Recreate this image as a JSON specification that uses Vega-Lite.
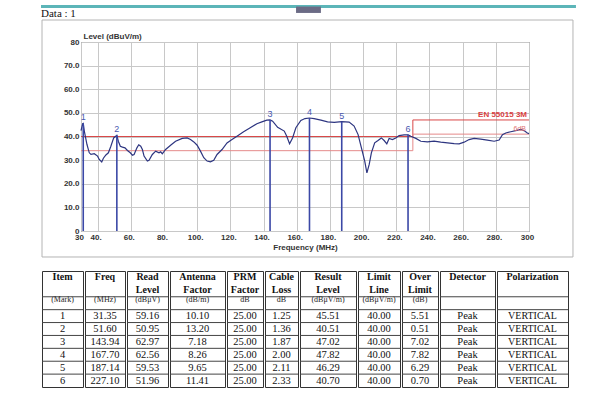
{
  "$schema": "https://vega.github.io/schema/vega-lite/v6.json",
  "background": "white",
  "padding": {"left": 39, "top": 4, "right": 0, "bottom": 0},
  "config": {
    "axis": {"labelOverlap": false, "labelFlush": false, "grid": true, "gridColor": "#c8c8c8", "domain": false, "ticks": false,
      "labelFont": "Liberation Sans", "labelFontSize": 8, "labelFontWeight": "bold", "labelColor": "#333",
      "titleFont": "Liberation Sans", "titleFontSize": 8, "titleFontWeight": "bold", "titleColor": "#333"},
    "axisX": {"labelPadding": 2, "labelOffset": -2, "titlePadding": 2},
    "axisY": {"labelPadding": 2, "titleAngle": 0, "titleAlign": "left", "titleBaseline": "alphabetic", "titleX": 2, "titleY": -4}
  },
  "datasets": {
    "curve": [
      {"f":30,"v":42.5},{"f":31,"v":45.4},{"f":31.35,"v":45.51},{"f":32,"v":42.3},{"f":33.6,"v":36.6},{"f":35,"v":33.1},{"f":36,"v":32.4},{"f":38,"v":32.7},{"f":40,"v":31.7},{"f":41,"v":30.3},{"f":42.5,"v":29.2},{"f":43.5,"v":30.8},{"f":45,"v":32.2},{"f":46.5,"v":33.1},{"f":48,"v":35.9},{"f":49.7,"v":39.4},{"f":51.6,"v":40.51},{"f":52.5,"v":38},{"f":53.7,"v":35.9},{"f":55,"v":35.5},{"f":56.5,"v":35.2},{"f":58,"v":34.1},{"f":59.7,"v":33.1},{"f":61,"v":32.1},{"f":62,"v":32.4},{"f":63.7,"v":35.2},{"f":64.8,"v":36.5},{"f":66,"v":35.9},{"f":67,"v":34.5},{"f":68,"v":31.7},{"f":70,"v":29.6},{"f":71,"v":29.9},{"f":73,"v":32.4},{"f":75,"v":33.8},{"f":77,"v":33.1},{"f":78,"v":33.5},{"f":79,"v":32.7},{"f":81,"v":34.5},{"f":84,"v":36.3},{"f":87,"v":38},{"f":91,"v":39.2},{"f":94,"v":39.4},{"f":96,"v":38.7},{"f":98,"v":37.7},{"f":100,"v":36.3},{"f":102,"v":33.8},{"f":104,"v":31},{"f":106,"v":29.6},{"f":108,"v":29.3},{"f":110,"v":29.9},{"f":112,"v":32.4},{"f":115,"v":34.5},{"f":118,"v":37.3},{"f":121,"v":38.7},{"f":124,"v":40.1},{"f":128,"v":42},{"f":132,"v":43.7},{"f":136,"v":45.4},{"f":139,"v":46.2},{"f":142,"v":46.9},{"f":143.94,"v":47.02},{"f":145.5,"v":46.5},{"f":148.5,"v":43.9},{"f":152.5,"v":42.3},{"f":154,"v":40.1},{"f":155.7,"v":36.9},{"f":157.5,"v":39.4},{"f":159.5,"v":43.7},{"f":162.5,"v":46.8},{"f":165,"v":47.6},{"f":167.7,"v":47.82},{"f":170.5,"v":47.6},{"f":174.6,"v":46.9},{"f":178.6,"v":46.2},{"f":182.6,"v":46},{"f":187.14,"v":46.29},{"f":191.6,"v":46.1},{"f":194.6,"v":44.4},{"f":197,"v":40.8},{"f":199,"v":35.2},{"f":201,"v":29.6},{"f":202.3,"v":24.6},{"f":203.7,"v":28.2},{"f":205,"v":33.1},{"f":207,"v":37.3},{"f":209,"v":38.3},{"f":211,"v":39.4},{"f":212.7,"v":38.3},{"f":214.3,"v":36.9},{"f":215.7,"v":39.2},{"f":217.7,"v":38.7},{"f":219.7,"v":39.4},{"f":221.7,"v":40.4},{"f":224.7,"v":40.7},{"f":227.1,"v":40.7},{"f":228.8,"v":40.1},{"f":231.8,"v":39.2},{"f":234.8,"v":38},{"f":238.8,"v":37.7},{"f":242.8,"v":38},{"f":246.8,"v":37.6},{"f":250.9,"v":37.3},{"f":254.9,"v":37},{"f":257.9,"v":36.9},{"f":260.9,"v":37.6},{"f":263.9,"v":38.7},{"f":266.9,"v":39.2},{"f":270.9,"v":38.9},{"f":274.9,"v":38.5},{"f":279,"v":38},{"f":282,"v":38.5},{"f":284,"v":40.8},{"f":286,"v":41.5},{"f":289,"v":42},{"f":292,"v":42.5},{"f":295,"v":43},{"f":297,"v":42.5},{"f":299,"v":41.5},{"f":300,"v":41.2}
    ],
    "limits": [
      {"s":"limit","i":0,"f":30,"v":40},{"s":"limit","i":1,"f":230,"v":40},{"s":"limit","i":2,"f":230,"v":47},{"s":"limit","i":3,"f":300,"v":47},
      {"s":"margin","i":0,"f":30,"v":34},{"s":"margin","i":1,"f":230,"v":34},{"s":"margin","i":2,"f":230,"v":41},{"s":"margin","i":3,"f":300,"v":41}
    ],
    "markers": [
      {"id":"1","f":31.35,"v":45.51},{"id":"2","f":51.6,"v":40.51},{"id":"3","f":143.94,"v":47.02},{"id":"4","f":167.7,"v":47.82},{"id":"5","f":187.14,"v":46.29},{"id":"6","f":227.1,"v":40.7}
    ],
    "tbl": [
      {"row":"h1","item":"Item","freq":"Freq","read":"Read","ant":"Antenna","prm":"PRM","cable":"Cable","result":"Result","limit":"Limit","over":"Over","det":"Detector","pol":"Polarization"},
      {"row":"h2","item":"","freq":"","read":"Level","ant":"Factor","prm":"Factor","cable":"Loss","result":"Level","limit":"Line","over":"Limit","det":"","pol":""},
      {"row":"u","item":"(Mark)","freq":"(MHz)","read":"(dBμV)","ant":"(dB/m)","prm":"dB","cable":"dB","result":"(dBμV/m)","limit":"(dBμV/m)","over":"(dB)","det":"","pol":""},
      {"row":"1","item":"1","freq":"31.35","read":"59.16","ant":"10.10","prm":"25.00","cable":"1.25","result":"45.51","limit":"40.00","over":"5.51","det":"Peak","pol":"VERTICAL"},
      {"row":"2","item":"2","freq":"51.60","read":"50.95","ant":"13.20","prm":"25.00","cable":"1.36","result":"40.51","limit":"40.00","over":"0.51","det":"Peak","pol":"VERTICAL"},
      {"row":"3","item":"3","freq":"143.94","read":"62.97","ant":"7.18","prm":"25.00","cable":"1.87","result":"47.02","limit":"40.00","over":"7.02","det":"Peak","pol":"VERTICAL"},
      {"row":"4","item":"4","freq":"167.70","read":"62.56","ant":"8.26","prm":"25.00","cable":"2.00","result":"47.82","limit":"40.00","over":"7.82","det":"Peak","pol":"VERTICAL"},
      {"row":"5","item":"5","freq":"187.14","read":"59.53","ant":"9.65","prm":"25.00","cable":"2.11","result":"46.29","limit":"40.00","over":"6.29","det":"Peak","pol":"VERTICAL"},
      {"row":"6","item":"6","freq":"227.10","read":"51.96","ant":"11.41","prm":"25.00","cable":"2.33","result":"40.70","limit":"40.00","over":"0.70","det":"Peak","pol":"VERTICAL"}
    ]
  },
  "spacing": 12,
  "vconcat": [
    {
      "spacing": 0,
      "hconcat": [
        {"width": 1, "height": 1, "view": {"stroke": null}, "data": {"values": [{}]}, "mark": {"type": "point", "opacity": 0, "size": 0, "strokeWidth": 0}},
        {
          "width": 448,
          "height": 189,
          "view": {"stroke": "#555", "fill": "white"},
          "layer": [
            {
              "data": {"values": [{}]},
              "mark": {"type": "rect", "fillOpacity": 0, "stroke": "#b4b4b4", "strokeWidth": 1},
              "encoding": {
                "x": {"datum": 6.5, "type": "quantitative", "scale": {"domain": [30, 300], "nice": false, "zero": false}, "axis": {"values": [30,40,60,80,100,120,140,160,180,200,220,240,260,280,300], "labelExpr": "datum.value==30||datum.value==300 ? ''+datum.value : datum.value+'.'", "title": "Frequency (MHz)"}},
                "x2": {"datum": 326.5},
                "y": {"datum": 89.31, "type": "quantitative", "scale": {"domain": [0, 80], "nice": false, "zero": false}, "axis": {"values": [0,10,20,30,40,50,60,70,80], "labelExpr": "datum.value==0||datum.value==80 ? format(datum.value,'d') : format(datum.value,'.1f')", "title": "Level (dBuV/m)"}},
                "y2": {"datum": -11}
              }
            },
            {
              "data": {"values": [{}]},
              "mark": {"type": "rect", "color": "#5cb5b8"},
              "encoding": {
                "x": {"datum": 5.9, "type": "quantitative", "scale": {"domain": [30, 300], "nice": false, "zero": false}, "axis": {"values": [30,40,60,80,100,120,140,160,180,200,220,240,260,280,300], "labelExpr": "datum.value==30||datum.value==300 ? ''+datum.value : datum.value+'.'", "title": "Frequency (MHz)"}},
                "x2": {"datum": 328.3},
                "y": {"datum": 95.66, "type": "quantitative", "scale": {"domain": [0, 80], "nice": false, "zero": false}, "axis": {"values": [0,10,20,30,40,50,60,70,80], "labelExpr": "datum.value==0||datum.value==80 ? format(datum.value,'d') : format(datum.value,'.1f')", "title": "Level (dBuV/m)"}},
                "y2": {"datum": 94.39}
              }
            },
            {
              "data": {"values": [{}]},
              "mark": {"type": "rect", "color": "#6b6b85"},
              "encoding": {
                "x": {"datum": 159.6, "type": "quantitative", "scale": {"domain": [30, 300], "nice": false, "zero": false}, "axis": {"values": [30,40,60,80,100,120,140,160,180,200,220,240,260,280,300], "labelExpr": "datum.value==30||datum.value==300 ? ''+datum.value : datum.value+'.'", "title": "Frequency (MHz)"}},
                "x2": {"datum": 174.6},
                "y": {"datum": 95.0, "type": "quantitative", "scale": {"domain": [0, 80], "nice": false, "zero": false}, "axis": {"values": [0,10,20,30,40,50,60,70,80], "labelExpr": "datum.value==0||datum.value==80 ? format(datum.value,'d') : format(datum.value,'.1f')", "title": "Level (dBuV/m)"}},
                "y2": {"datum": 92.3}
              }
            },
            {
              "data": {"values": [{}]},
              "mark": {"type": "text", "font": "Liberation Serif", "fontSize": 11, "color": "#111", "align": "left", "baseline": "alphabetic"},
              "encoding": {
                "x": {"datum": 5.9, "type": "quantitative", "scale": {"domain": [30, 300], "nice": false, "zero": false}, "axis": {"values": [30,40,60,80,100,120,140,160,180,200,220,240,260,280,300], "labelExpr": "datum.value==30||datum.value==300 ? ''+datum.value : datum.value+'.'", "title": "Frequency (MHz)"}},
                "y": {"datum": 90.58, "type": "quantitative", "scale": {"domain": [0, 80], "nice": false, "zero": false}, "axis": {"values": [0,10,20,30,40,50,60,70,80], "labelExpr": "datum.value==0||datum.value==80 ? format(datum.value,'d') : format(datum.value,'.1f')", "title": "Level (dBuV/m)"}},
                "text": {"value": "Data : 1"}
              }
            },
            {
              "data": {"name": "limits"},
              "mark": {"type": "line", "strokeWidth": 1},
              "encoding": {
                "x": {"field": "f", "type": "quantitative", "scale": {"domain": [30, 300], "nice": false, "zero": false}, "axis": {"values": [30,40,60,80,100,120,140,160,180,200,220,240,260,280,300], "labelExpr": "datum.value==30||datum.value==300 ? ''+datum.value : datum.value+'.'", "title": "Frequency (MHz)"}},
                "y": {"field": "v", "type": "quantitative", "scale": {"domain": [0, 80], "nice": false, "zero": false}, "axis": {"values": [0,10,20,30,40,50,60,70,80], "labelExpr": "datum.value==0||datum.value==80 ? format(datum.value,'d') : format(datum.value,'.1f')", "title": "Level (dBuV/m)"}},
                "color": {"field": "s", "type": "nominal", "scale": {"domain": ["limit", "margin"], "range": ["#d94848", "#e58a8a"]}, "legend": null},
                "order": {"field": "i"}
              }
            },
            {
              "data": {"name": "curve"},
              "mark": {"type": "line", "color": "#2d3580", "strokeWidth": 1.2},
              "encoding": {
                "x": {"field": "f", "type": "quantitative", "scale": {"domain": [30, 300], "nice": false, "zero": false}, "axis": {"values": [30,40,60,80,100,120,140,160,180,200,220,240,260,280,300], "labelExpr": "datum.value==30||datum.value==300 ? ''+datum.value : datum.value+'.'", "title": "Frequency (MHz)"}},
                "y": {"field": "v", "type": "quantitative", "scale": {"domain": [0, 80], "nice": false, "zero": false}, "axis": {"values": [0,10,20,30,40,50,60,70,80], "labelExpr": "datum.value==0||datum.value==80 ? format(datum.value,'d') : format(datum.value,'.1f')", "title": "Level (dBuV/m)"}}
              }
            },
            {
              "data": {"name": "markers"},
              "mark": {"type": "rule", "color": "#3b48a6", "strokeWidth": 1.6},
              "encoding": {
                "x": {"field": "f", "type": "quantitative", "scale": {"domain": [30, 300], "nice": false, "zero": false}, "axis": {"values": [30,40,60,80,100,120,140,160,180,200,220,240,260,280,300], "labelExpr": "datum.value==30||datum.value==300 ? ''+datum.value : datum.value+'.'", "title": "Frequency (MHz)"}},
                "y": {"field": "v", "type": "quantitative", "scale": {"domain": [0, 80], "nice": false, "zero": false}, "axis": {"values": [0,10,20,30,40,50,60,70,80], "labelExpr": "datum.value==0||datum.value==80 ? format(datum.value,'d') : format(datum.value,'.1f')", "title": "Level (dBuV/m)"}},
                "y2": {"datum": 0}
              }
            },
            {
              "data": {"name": "markers"},
              "mark": {"type": "text", "font": "Liberation Sans", "fontSize": 9, "color": "#4a58b0", "baseline": "bottom", "dy": -1},
              "encoding": {
                "x": {"field": "f", "type": "quantitative", "scale": {"domain": [30, 300], "nice": false, "zero": false}, "axis": {"values": [30,40,60,80,100,120,140,160,180,200,220,240,260,280,300], "labelExpr": "datum.value==30||datum.value==300 ? ''+datum.value : datum.value+'.'", "title": "Frequency (MHz)"}},
                "y": {"field": "v", "type": "quantitative", "scale": {"domain": [0, 80], "nice": false, "zero": false}, "axis": {"values": [0,10,20,30,40,50,60,70,80], "labelExpr": "datum.value==0||datum.value==80 ? format(datum.value,'d') : format(datum.value,'.1f')", "title": "Level (dBuV/m)"}},
                "text": {"field": "id"}
              }
            },
            {
              "data": {"values": [{}]},
              "mark": {"type": "text", "font": "Liberation Sans", "fontSize": 8, "fontWeight": "bold", "color": "#d94040", "align": "right", "baseline": "alphabetic", "dx": -2, "dy": -3},
              "encoding": {
                "x": {"datum": 300, "type": "quantitative", "scale": {"domain": [30, 300], "nice": false, "zero": false}, "axis": {"values": [30,40,60,80,100,120,140,160,180,200,220,240,260,280,300], "labelExpr": "datum.value==30||datum.value==300 ? ''+datum.value : datum.value+'.'", "title": "Frequency (MHz)"}},
                "y": {"datum": 47, "type": "quantitative", "scale": {"domain": [0, 80], "nice": false, "zero": false}, "axis": {"values": [0,10,20,30,40,50,60,70,80], "labelExpr": "datum.value==0||datum.value==80 ? format(datum.value,'d') : format(datum.value,'.1f')", "title": "Level (dBuV/m)"}},
                "text": {"value": "EN 55015  3M"}
              }
            },
            {
              "data": {"values": [{}]},
              "mark": {"type": "text", "font": "Liberation Sans", "fontSize": 7, "color": "#e07070", "align": "right", "baseline": "alphabetic", "dx": -3, "dy": -3},
              "encoding": {
                "x": {"datum": 300, "type": "quantitative", "scale": {"domain": [30, 300], "nice": false, "zero": false}, "axis": {"values": [30,40,60,80,100,120,140,160,180,200,220,240,260,280,300], "labelExpr": "datum.value==30||datum.value==300 ? ''+datum.value : datum.value+'.'", "title": "Frequency (MHz)"}},
                "y": {"datum": 41, "type": "quantitative", "scale": {"domain": [0, 80], "nice": false, "zero": false}, "axis": {"values": [0,10,20,30,40,50,60,70,80], "labelExpr": "datum.value==0||datum.value==80 ? format(datum.value,'d') : format(datum.value,'.1f')", "title": "Level (dBuV/m)"}},
                "text": {"value": "6dB"}
              }
            }
          ]
        }
      ]
    },
    {
      "spacing": 0,
      "hconcat": [
        {"width": 2, "height": 1, "view": {"stroke": null}, "data": {"values": [{}]}, "mark": {"type": "point", "opacity": 0, "size": 0, "strokeWidth": 0}},
        {"width": 41, "height": 116, "view": {"stroke": "#333"}, "data": {"name": "tbl"},
         "encoding": {"y": {"field": "row", "type": "ordinal", "scale": {"domain": ["h1","h2","u","1","2","3","4","5","6"], "paddingInner": 0, "paddingOuter": 0}, "axis": null}},
         "layer": [
          {"transform": [{"filter": "datum.row=='h1'||datum.row=='h2'"}], "mark": {"type": "text", "font": "Liberation Serif", "fontSize": 10, "fontWeight": "bold", "color": "#111"}, "encoding": {"text": {"field": "item"}}},
          {"transform": [{"filter": "datum.row=='u'"}], "mark": {"type": "text", "font": "Liberation Serif", "fontSize": 8, "color": "#222", "dy": -3}, "encoding": {"text": {"field": "item"}}},
          {"transform": [{"filter": "indexof(['1','2','3','4','5','6'], datum.row) >= 0"}], "mark": {"type": "text", "font": "Liberation Serif", "fontSize": 10.5, "color": "#111"}, "encoding": {"text": {"field": "item"}}},
          {"transform": [{"filter": "datum.row!='h1'&&datum.row!='h2'"}], "mark": {"type": "rule", "color": "#444"}, "encoding": {"y": {"field": "row", "type": "ordinal", "bandPosition": 0}}}
         ]},
        {"width": 40, "height": 116, "view": {"stroke": "#333"}, "data": {"name": "tbl"},
         "encoding": {"y": {"field": "row", "type": "ordinal", "scale": {"domain": ["h1","h2","u","1","2","3","4","5","6"], "paddingInner": 0, "paddingOuter": 0}, "axis": null}},
         "layer": [
          {"transform": [{"filter": "datum.row=='h1'||datum.row=='h2'"}], "mark": {"type": "text", "font": "Liberation Serif", "fontSize": 10, "fontWeight": "bold", "color": "#111"}, "encoding": {"text": {"field": "freq"}}},
          {"transform": [{"filter": "datum.row=='u'"}], "mark": {"type": "text", "font": "Liberation Serif", "fontSize": 8, "color": "#222", "dy": -3}, "encoding": {"text": {"field": "freq"}}},
          {"transform": [{"filter": "indexof(['1','2','3','4','5','6'], datum.row) >= 0"}], "mark": {"type": "text", "font": "Liberation Serif", "fontSize": 10.5, "color": "#111"}, "encoding": {"text": {"field": "freq"}}},
          {"transform": [{"filter": "datum.row!='h1'&&datum.row!='h2'"}], "mark": {"type": "rule", "color": "#444"}, "encoding": {"y": {"field": "row", "type": "ordinal", "bandPosition": 0}}}
         ]},
        {"width": 41, "height": 116, "view": {"stroke": "#333"}, "data": {"name": "tbl"},
         "encoding": {"y": {"field": "row", "type": "ordinal", "scale": {"domain": ["h1","h2","u","1","2","3","4","5","6"], "paddingInner": 0, "paddingOuter": 0}, "axis": null}},
         "layer": [
          {"transform": [{"filter": "datum.row=='h1'||datum.row=='h2'"}], "mark": {"type": "text", "font": "Liberation Serif", "fontSize": 10, "fontWeight": "bold", "color": "#111"}, "encoding": {"text": {"field": "read"}}},
          {"transform": [{"filter": "datum.row=='u'"}], "mark": {"type": "text", "font": "Liberation Serif", "fontSize": 8, "color": "#222", "dy": -3}, "encoding": {"text": {"field": "read"}}},
          {"transform": [{"filter": "indexof(['1','2','3','4','5','6'], datum.row) >= 0"}], "mark": {"type": "text", "font": "Liberation Serif", "fontSize": 10.5, "color": "#111"}, "encoding": {"text": {"field": "read"}}},
          {"transform": [{"filter": "datum.row!='h1'&&datum.row!='h2'"}], "mark": {"type": "rule", "color": "#444"}, "encoding": {"y": {"field": "row", "type": "ordinal", "bandPosition": 0}}}
         ]},
        {"width": 55, "height": 116, "view": {"stroke": "#333"}, "data": {"name": "tbl"},
         "encoding": {"y": {"field": "row", "type": "ordinal", "scale": {"domain": ["h1","h2","u","1","2","3","4","5","6"], "paddingInner": 0, "paddingOuter": 0}, "axis": null}},
         "layer": [
          {"transform": [{"filter": "datum.row=='h1'||datum.row=='h2'"}], "mark": {"type": "text", "font": "Liberation Serif", "fontSize": 10, "fontWeight": "bold", "color": "#111"}, "encoding": {"text": {"field": "ant"}}},
          {"transform": [{"filter": "datum.row=='u'"}], "mark": {"type": "text", "font": "Liberation Serif", "fontSize": 8, "color": "#222", "dy": -3}, "encoding": {"text": {"field": "ant"}}},
          {"transform": [{"filter": "indexof(['1','2','3','4','5','6'], datum.row) >= 0"}], "mark": {"type": "text", "font": "Liberation Serif", "fontSize": 10.5, "color": "#111"}, "encoding": {"text": {"field": "ant"}}},
          {"transform": [{"filter": "datum.row!='h1'&&datum.row!='h2'"}], "mark": {"type": "rule", "color": "#444"}, "encoding": {"y": {"field": "row", "type": "ordinal", "bandPosition": 0}}}
         ]},
        {"width": 36, "height": 116, "view": {"stroke": "#333"}, "data": {"name": "tbl"},
         "encoding": {"y": {"field": "row", "type": "ordinal", "scale": {"domain": ["h1","h2","u","1","2","3","4","5","6"], "paddingInner": 0, "paddingOuter": 0}, "axis": null}},
         "layer": [
          {"transform": [{"filter": "datum.row=='h1'||datum.row=='h2'"}], "mark": {"type": "text", "font": "Liberation Serif", "fontSize": 10, "fontWeight": "bold", "color": "#111"}, "encoding": {"text": {"field": "prm"}}},
          {"transform": [{"filter": "datum.row=='u'"}], "mark": {"type": "text", "font": "Liberation Serif", "fontSize": 8, "color": "#222", "dy": -3}, "encoding": {"text": {"field": "prm"}}},
          {"transform": [{"filter": "indexof(['1','2','3','4','5','6'], datum.row) >= 0"}], "mark": {"type": "text", "font": "Liberation Serif", "fontSize": 10.5, "color": "#111"}, "encoding": {"text": {"field": "prm"}}},
          {"transform": [{"filter": "datum.row!='h1'&&datum.row!='h2'"}], "mark": {"type": "rule", "color": "#444"}, "encoding": {"y": {"field": "row", "type": "ordinal", "bandPosition": 0}}}
         ]},
        {"width": 33, "height": 116, "view": {"stroke": "#333"}, "data": {"name": "tbl"},
         "encoding": {"y": {"field": "row", "type": "ordinal", "scale": {"domain": ["h1","h2","u","1","2","3","4","5","6"], "paddingInner": 0, "paddingOuter": 0}, "axis": null}},
         "layer": [
          {"transform": [{"filter": "datum.row=='h1'||datum.row=='h2'"}], "mark": {"type": "text", "font": "Liberation Serif", "fontSize": 10, "fontWeight": "bold", "color": "#111"}, "encoding": {"text": {"field": "cable"}}},
          {"transform": [{"filter": "datum.row=='u'"}], "mark": {"type": "text", "font": "Liberation Serif", "fontSize": 8, "color": "#222", "dy": -3}, "encoding": {"text": {"field": "cable"}}},
          {"transform": [{"filter": "indexof(['1','2','3','4','5','6'], datum.row) >= 0"}], "mark": {"type": "text", "font": "Liberation Serif", "fontSize": 10.5, "color": "#111"}, "encoding": {"text": {"field": "cable"}}},
          {"transform": [{"filter": "datum.row!='h1'&&datum.row!='h2'"}], "mark": {"type": "rule", "color": "#444"}, "encoding": {"y": {"field": "row", "type": "ordinal", "bandPosition": 0}}}
         ]},
        {"width": 56, "height": 116, "view": {"stroke": "#333"}, "data": {"name": "tbl"},
         "encoding": {"y": {"field": "row", "type": "ordinal", "scale": {"domain": ["h1","h2","u","1","2","3","4","5","6"], "paddingInner": 0, "paddingOuter": 0}, "axis": null}},
         "layer": [
          {"transform": [{"filter": "datum.row=='h1'||datum.row=='h2'"}], "mark": {"type": "text", "font": "Liberation Serif", "fontSize": 10, "fontWeight": "bold", "color": "#111"}, "encoding": {"text": {"field": "result"}}},
          {"transform": [{"filter": "datum.row=='u'"}], "mark": {"type": "text", "font": "Liberation Serif", "fontSize": 8, "color": "#222", "dy": -3}, "encoding": {"text": {"field": "result"}}},
          {"transform": [{"filter": "indexof(['1','2','3','4','5','6'], datum.row) >= 0"}], "mark": {"type": "text", "font": "Liberation Serif", "fontSize": 10.5, "color": "#111"}, "encoding": {"text": {"field": "result"}}},
          {"transform": [{"filter": "datum.row!='h1'&&datum.row!='h2'"}], "mark": {"type": "rule", "color": "#444"}, "encoding": {"y": {"field": "row", "type": "ordinal", "bandPosition": 0}}}
         ]},
        {"width": 42, "height": 116, "view": {"stroke": "#333"}, "data": {"name": "tbl"},
         "encoding": {"y": {"field": "row", "type": "ordinal", "scale": {"domain": ["h1","h2","u","1","2","3","4","5","6"], "paddingInner": 0, "paddingOuter": 0}, "axis": null}},
         "layer": [
          {"transform": [{"filter": "datum.row=='h1'||datum.row=='h2'"}], "mark": {"type": "text", "font": "Liberation Serif", "fontSize": 10, "fontWeight": "bold", "color": "#111"}, "encoding": {"text": {"field": "limit"}}},
          {"transform": [{"filter": "datum.row=='u'"}], "mark": {"type": "text", "font": "Liberation Serif", "fontSize": 8, "color": "#222", "dy": -3}, "encoding": {"text": {"field": "limit"}}},
          {"transform": [{"filter": "indexof(['1','2','3','4','5','6'], datum.row) >= 0"}], "mark": {"type": "text", "font": "Liberation Serif", "fontSize": 10.5, "color": "#111"}, "encoding": {"text": {"field": "limit"}}},
          {"transform": [{"filter": "datum.row!='h1'&&datum.row!='h2'"}], "mark": {"type": "rule", "color": "#444"}, "encoding": {"y": {"field": "row", "type": "ordinal", "bandPosition": 0}}}
         ]},
        {"width": 36, "height": 116, "view": {"stroke": "#333"}, "data": {"name": "tbl"},
         "encoding": {"y": {"field": "row", "type": "ordinal", "scale": {"domain": ["h1","h2","u","1","2","3","4","5","6"], "paddingInner": 0, "paddingOuter": 0}, "axis": null}},
         "layer": [
          {"transform": [{"filter": "datum.row=='h1'||datum.row=='h2'"}], "mark": {"type": "text", "font": "Liberation Serif", "fontSize": 10, "fontWeight": "bold", "color": "#111"}, "encoding": {"text": {"field": "over"}}},
          {"transform": [{"filter": "datum.row=='u'"}], "mark": {"type": "text", "font": "Liberation Serif", "fontSize": 8, "color": "#222", "dy": -3}, "encoding": {"text": {"field": "over"}}},
          {"transform": [{"filter": "indexof(['1','2','3','4','5','6'], datum.row) >= 0"}], "mark": {"type": "text", "font": "Liberation Serif", "fontSize": 10.5, "color": "#111"}, "encoding": {"text": {"field": "over"}}},
          {"transform": [{"filter": "datum.row!='h1'&&datum.row!='h2'"}], "mark": {"type": "rule", "color": "#444"}, "encoding": {"y": {"field": "row", "type": "ordinal", "bandPosition": 0}}}
         ]},
        {"width": 55, "height": 116, "view": {"stroke": "#333"}, "data": {"name": "tbl"},
         "encoding": {"y": {"field": "row", "type": "ordinal", "scale": {"domain": ["h1","h2","u","1","2","3","4","5","6"], "paddingInner": 0, "paddingOuter": 0}, "axis": null}},
         "layer": [
          {"transform": [{"filter": "datum.row=='h1'||datum.row=='h2'"}], "mark": {"type": "text", "font": "Liberation Serif", "fontSize": 10, "fontWeight": "bold", "color": "#111"}, "encoding": {"text": {"field": "det"}}},
          {"transform": [{"filter": "datum.row=='u'"}], "mark": {"type": "text", "font": "Liberation Serif", "fontSize": 8, "color": "#222", "dy": -3}, "encoding": {"text": {"field": "det"}}},
          {"transform": [{"filter": "indexof(['1','2','3','4','5','6'], datum.row) >= 0"}], "mark": {"type": "text", "font": "Liberation Serif", "fontSize": 10.5, "color": "#111"}, "encoding": {"text": {"field": "det"}}},
          {"transform": [{"filter": "datum.row!='h1'&&datum.row!='h2'"}], "mark": {"type": "rule", "color": "#444"}, "encoding": {"y": {"field": "row", "type": "ordinal", "bandPosition": 0}}}
         ]},
        {"width": 71, "height": 116, "view": {"stroke": "#333"}, "data": {"name": "tbl"},
         "encoding": {"y": {"field": "row", "type": "ordinal", "scale": {"domain": ["h1","h2","u","1","2","3","4","5","6"], "paddingInner": 0, "paddingOuter": 0}, "axis": null}},
         "layer": [
          {"transform": [{"filter": "datum.row=='h1'||datum.row=='h2'"}], "mark": {"type": "text", "font": "Liberation Serif", "fontSize": 10, "fontWeight": "bold", "color": "#111"}, "encoding": {"text": {"field": "pol"}}},
          {"transform": [{"filter": "datum.row=='u'"}], "mark": {"type": "text", "font": "Liberation Serif", "fontSize": 8, "color": "#222", "dy": -3}, "encoding": {"text": {"field": "pol"}}},
          {"transform": [{"filter": "indexof(['1','2','3','4','5','6'], datum.row) >= 0"}], "mark": {"type": "text", "font": "Liberation Serif", "fontSize": 10, "color": "#111"}, "encoding": {"text": {"field": "pol"}}},
          {"transform": [{"filter": "datum.row!='h1'&&datum.row!='h2'"}], "mark": {"type": "rule", "color": "#444"}, "encoding": {"y": {"field": "row", "type": "ordinal", "bandPosition": 0}}}
         ]}
      ]
    }
  ]
}
